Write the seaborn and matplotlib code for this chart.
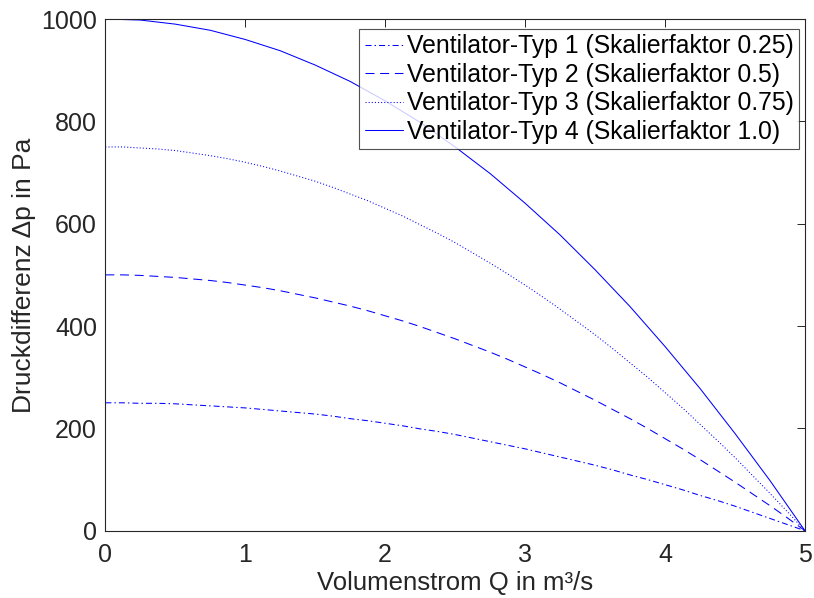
import matplotlib
matplotlib.use("Agg")
import matplotlib.pyplot as plt
import seaborn as sns
import pandas as pd

# Volume flow Q in m³/s
q_values = [0.0, 0.125, 0.25, 0.375, 0.5, 0.625, 0.75, 0.875, 1.0, 1.125,
            1.25, 1.375, 1.5, 1.625, 1.75, 1.875, 2.0, 2.125, 2.25, 2.375,
            2.5, 2.625, 2.75, 2.875, 3.0, 3.125, 3.25, 3.375, 3.5, 3.625,
            3.75, 3.875, 4.0, 4.125, 4.25, 4.375, 4.5, 4.625, 4.75, 4.875, 5.0]

# Pressure difference Δp in Pa for each fan type
dp_typ1 = [250, 250, 249, 249, 248, 246, 244, 242, 240, 237, 234, 231, 228, 224,
           219, 215, 210, 205, 199, 194, 188, 181, 174, 167, 160, 152, 144, 136,
           128, 119, 109, 100, 90, 80, 69, 59, 48, 36, 24, 12, 0]
dp_typ2 = [500, 500, 499, 497, 495, 492, 489, 485, 480, 475, 469, 462, 455, 447,
           439, 430, 420, 410, 399, 387, 375, 362, 349, 335, 320, 305, 289, 272,
           255, 237, 219, 200, 180, 160, 139, 117, 95, 72, 49, 25, 0]
dp_typ3 = [750, 750, 748, 746, 743, 738, 733, 727, 720, 712, 703, 693, 683, 671,
           658, 645, 630, 615, 598, 581, 563, 543, 523, 502, 480, 457, 433, 408,
           383, 356, 328, 300, 270, 240, 208, 176, 143, 108, 73, 37, 0]
dp_typ4 = [1000, 999, 998, 994, 990, 984, 978, 969, 960, 949, 938, 924, 910, 894,
           878, 859, 840, 819, 798, 774, 750, 724, 698, 669, 640, 609, 578, 544,
           510, 474, 438, 399, 360, 319, 278, 234, 190, 144, 98, 49, 0]

labels = [
    "Ventilator-Typ 1 (Skalierfaktor 0.25)",
    "Ventilator-Typ 2 (Skalierfaktor 0.5)",
    "Ventilator-Typ 3 (Skalierfaktor 0.75)",
    "Ventilator-Typ 4 (Skalierfaktor 1.0)",
]
series = [dp_typ1, dp_typ2, dp_typ3, dp_typ4]

sns.set_theme(style="white")
plt.rcParams["font.family"] = ["Liberation Sans", "DejaVu Sans"]

axis_color = "#262626"
line_color = "#0000ff"
line_w = 0.75
fig = plt.figure(figsize=(8.14, 5.98), dpi=100)
ax = fig.add_axes([0.1294, 0.1125, 0.8595, 0.8557])

dash_styles = [
    (0, (5.8, 2.9, 1.4, 2.9)),   # dash-dot
    (0, (8.6, 5.5)),             # dashed
    (0, (1.0, 2.0)),             # dotted
    "-",                         # solid
]

for vals, lab, ls in zip(series, labels, dash_styles):
    df = pd.DataFrame({"Q": q_values, "dp": vals})
    sns.lineplot(data=df, x="Q", y="dp", ax=ax, color=line_color,
                 linewidth=line_w, label=lab, linestyle=ls, legend=False)

ax.set_xlim(0, 5)
ax.set_ylim(0, 1000)
ax.set_xticks([0, 1, 2, 3, 4, 5])
ax.set_yticks([0, 200, 400, 600, 800, 1000])

for sp in ax.spines.values():
    sp.set_visible(True)
    sp.set_color(axis_color)
    sp.set_linewidth(0.8)

ax.tick_params(axis="both", which="major", direction="in", length=6,
               width=0.7, color=axis_color, labelcolor=axis_color,
               labelsize=18, top=True, right=True)
ax.tick_params(axis="x", pad=9)
ax.tick_params(axis="y", pad=6)

ax.set_xlabel("Volumenstrom Q in m³/s", fontsize=18.5, color=axis_color, labelpad=3)
ax.set_ylabel("Druckdifferenz Δp in Pa", fontsize=19, color=axis_color, labelpad=4)

handles = ax.get_lines()[:4]
leg = ax.legend(handles, labels, loc="upper right",
                bbox_to_anchor=(0.9915, 0.9805),
                borderaxespad=0, fontsize=17.8, frameon=True, fancybox=False,
                handlelength=1.55, handletextpad=0.15, labelspacing=0.18,
                borderpad=0.22)
leg.get_frame().set_edgecolor(axis_color)
leg.get_frame().set_linewidth(0.8)
for t in leg.get_texts():
    t.set_color("black")

fig.savefig("out.png", dpi=100)
